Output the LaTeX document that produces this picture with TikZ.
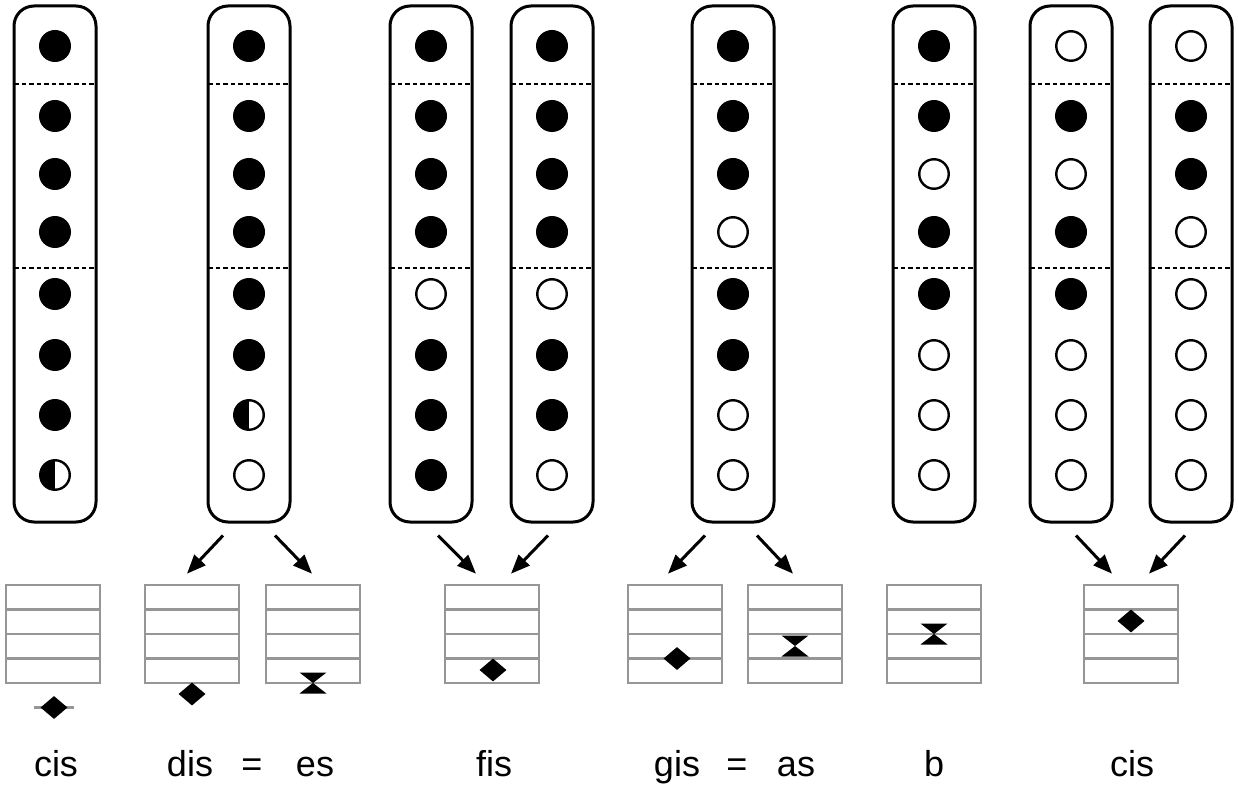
\documentclass[tikz,border=0pt]{standalone}
\usepackage{fontspec}
\setmainfont{Liberation Sans}
\usetikzlibrary{arrows.meta,calc,shapes.geometric}
\definecolor{staffgray}{RGB}{150,150,150}
\tikzset{
 colbox/.style={draw, line width=3pt, rounded corners=20pt, minimum width=82pt, minimum height=516pt, inner sep=0pt},
 sepline/.style={line width=2.2pt, dash pattern=on 4.5pt off 3pt},
 fulldot/.style={circle, fill=black, minimum size=32pt, inner sep=0pt},
 opendot/.style={circle, draw, line width=2.4pt, minimum size=29.5pt, inner sep=0pt},
 halfdot/.style={opendot, path picture={\fill (path picture bounding box.north west) rectangle (path picture bounding box.south);}},
 staff/.style={draw=staffgray, line width=2.6pt, minimum width=94pt, minimum height=98pt, inner sep=0pt},
 staffline/.style={draw=staffgray, line width=2.6pt},
 notehead/.style={diamond, fill=black, minimum width=27pt, minimum height=23pt, inner sep=0pt},
 arr/.style={line width=3pt, -{Triangle[length=19pt,width=15pt]}},
 lbl/.style={font=\fontsize{36}{42}\selectfont, anchor=base, inner sep=0pt},
 bowtie/.pic={\fill (-13.5,-10.5) -- (13.5,-10.5) -- (0,0) -- cycle (-13.5,10.5) -- (13.5,10.5) -- (0,0) -- cycle;}
}
\newcommand\mkcol[3]{%
 \node[colbox] (#1) at (#2,264) {};
 \draw[sepline] (#2-41,84) -- (#2+41,84);
 \draw[sepline] (#2-41,268) -- (#2+41,268);
 \foreach \t [count=\i] in {#3} {%
   \pgfmathsetmacro\ry{{46,116,174,232,294,355,415,475}[\i-1]}%
   \node[\t] (#1-\i) at (#2,\ry) {};}%
}
\newcommand\mkstaff[2]{%
 \node[staff] (#1) at (#2,634) {};
 \foreach \yy in {609.5,634,658.5} \draw[staffline] (#2-47,\yy) -- (#2+47,\yy);%
}
\begin{document}
\begin{tikzpicture}[x=1pt,y=-1pt]
\useasboundingbox (0,0) rectangle (1239,786);
% columns
\mkcol{c1}{55}{fulldot,fulldot,fulldot,fulldot,fulldot,fulldot,fulldot,halfdot}
\mkcol{c2}{249}{fulldot,fulldot,fulldot,fulldot,fulldot,fulldot,halfdot,opendot}
\mkcol{c3}{431}{fulldot,fulldot,fulldot,fulldot,opendot,fulldot,fulldot,fulldot}
\mkcol{c4}{552}{fulldot,fulldot,fulldot,fulldot,opendot,fulldot,fulldot,opendot}
\mkcol{c5}{733}{fulldot,fulldot,fulldot,opendot,fulldot,fulldot,opendot,opendot}
\mkcol{c6}{934}{fulldot,fulldot,opendot,fulldot,fulldot,opendot,opendot,opendot}
\mkcol{c7}{1071}{opendot,fulldot,opendot,fulldot,fulldot,opendot,opendot,opendot}
\mkcol{c8}{1191}{opendot,fulldot,fulldot,opendot,opendot,opendot,opendot,opendot}
% staffs
\mkstaff{s1}{53}
\mkstaff{s2}{192}
\mkstaff{s3}{313}
\mkstaff{s4}{492}
\mkstaff{s5}{675}
\mkstaff{s6}{795}
\mkstaff{s7}{934}
\mkstaff{s8}{1131}
% notes
\draw[staffline] (34,707.5) -- (74,707.5);
\node[notehead] (n1) at (54,707.5) {};
\node[notehead] (n2) at (192,694) {};
\coordinate (n3) at (313,683); \pic at (n3) {bowtie};
\node[notehead] (n4) at (493,670) {};
\node[notehead] (n5) at (677,658.5) {};
\coordinate (n6) at (795,646); \pic at (n6) {bowtie};
\coordinate (n7) at (934,634); \pic at (n7) {bowtie};
\node[notehead] (n8) at (1131,621) {};
% arrows
\draw[arr] ($(c2.south)+(-26,12)$) -- ($(s2.north)+(-5,-10)$);
\draw[arr] ($(c2.south)+(26,12)$) -- ($(s3.north)+(-1,-10)$);
\draw[arr] ($(c3.south)+(7,12)$) -- ($(s4.north)+(-16,-10)$);
\draw[arr] ($(c4.south)+(-4,12)$) -- ($(s4.north)+(19,-10)$);
\draw[arr] ($(c5.south)+(-28,12)$) -- ($(s5.north)+(-7,-10)$);
\draw[arr] ($(c5.south)+(24,12)$) -- ($(s6.north)+(-2,-10)$);
\draw[arr] ($(c7.south)+(5,12)$) -- ($(s8.north)+(-19,-10)$);
\draw[arr] ($(c8.south)+(-6,12)$) -- ($(s8.north)+(18,-10)$);
% labels
\node[lbl] (l1) at (56,776) {cis};
\node[lbl] (l2) at (190,776) {dis};
\node[lbl] (l2e) at (252,776) {=};
\node[lbl] (l3) at (315,776) {es};
\node[lbl] (l4) at (494,776) {fis};
\node[lbl] (l5) at (677,776) {gis};
\node[lbl] (l5e) at (737,776) {=};
\node[lbl] (l6) at (796,776) {as};
\node[lbl] (l7) at (934,776) {b};
\node[lbl] (l8) at (1132,776) {cis};
\end{tikzpicture}
\end{document}
